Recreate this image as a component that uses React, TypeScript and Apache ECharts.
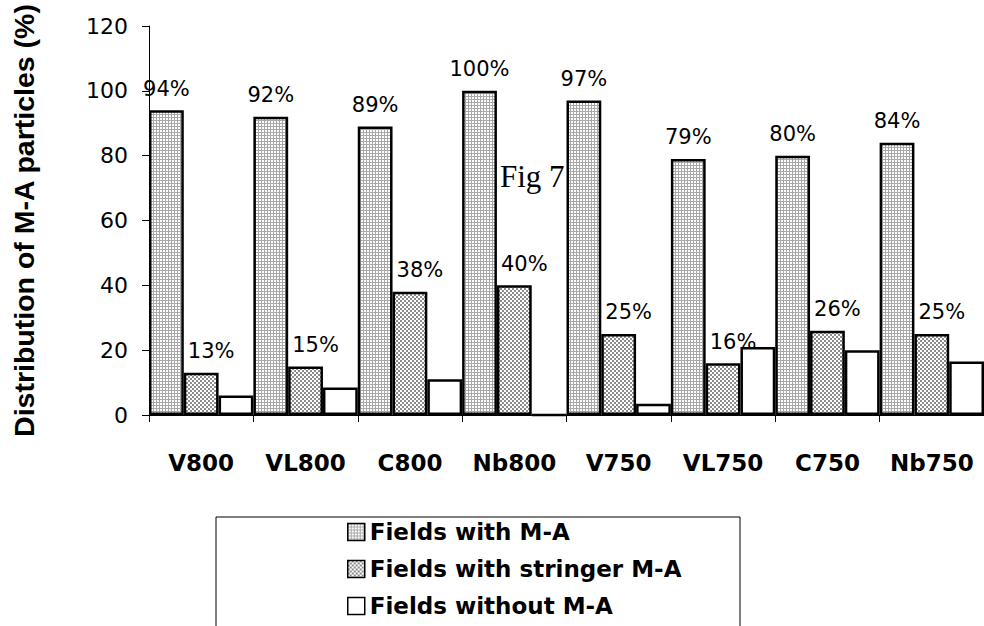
import React, { useEffect, useRef } from 'react';
import * as echarts from 'echarts';

const categories = ['V800', 'VL800', 'C800', 'Nb800', 'V750', 'VL750', 'C750', 'Nb750'];
const withMA = [94, 92, 89, 100, 97, 79, 80, 84];
const stringerMA = [13, 15, 38, 40, 25, 16, 26, 25];
const withoutMA = [6, 8.5, 11, 0, 3.5, 21, 20, 16.5];
const seriesNames = ['Fields with M-A', 'Fields with stringer M-A', 'Fields without M-A'];
const yTicks = { min: 0, max: 120, interval: 20 };

function makePattern(size: number, dark: string, cells: [number, number][]) {
  const c = document.createElement('canvas');
  c.width = size;
  c.height = size;
  const ctx = c.getContext('2d')!;
  ctx.fillStyle = '#ffffff';
  ctx.fillRect(0, 0, size, size);
  ctx.fillStyle = dark;
  cells.forEach(([x, y]) => ctx.fillRect(x, y, 1, 1));
  return { image: c.toDataURL(), repeat: 'repeat', imageWidth: size, imageHeight: size } as any;
}

export default function App() {
  const ref = useRef<HTMLDivElement>(null);
  useEffect(() => {
    const chart = echarts.init(ref.current!, null, { renderer: 'svg' });
    const gridPat = makePattern(3, '#a8a8a8', [[0, 0], [1, 0], [2, 0], [0, 1], [0, 2]]);
    const checkPat = makePattern(4, '#8c8c8c', [[0, 0], [1, 0], [0, 1], [1, 1], [2, 2], [3, 2], [2, 3], [3, 3]]);
    const labelStyle = {
      show: true,
      position: 'top',
      distance: 11,
      formatter: '{c}%',
      fontFamily: 'DejaVu Sans',
      fontSize: 21,
      color: '#000',
    };
    const option: any = {
      animation: false,
      backgroundColor: '#fff',
      grid: { left: 149, right: 0, top: 26, bottom: 211, containLabel: false },
      xAxis: {
        type: 'category',
        data: categories,
        axisLine: { lineStyle: { color: '#000', width: 1 } },
        axisTick: { show: true, length: 7, lineStyle: { color: '#000' } },
        axisLabel: {
          interval: 0,
          margin: 36,
          fontFamily: 'DejaVu Sans',
          fontWeight: 'bold',
          fontSize: 23,
          color: '#000',
        },
      },
      yAxis: {
        type: 'value',
        min: yTicks.min,
        max: yTicks.max,
        interval: yTicks.interval,
        name: 'Distribution of M-A particles (%)',
        nameLocation: 'middle',
        nameRotate: 90,
        nameGap: 111,
        nameTextStyle: {
          fontFamily: 'Liberation Sans',
          fontWeight: 'bold',
          fontSize: 28.5,
          color: '#000',
        },
        splitLine: { show: false },
        axisLine: { show: true, lineStyle: { color: '#000', width: 1 } },
        axisTick: { show: true, length: 7, lineStyle: { color: '#000' } },
        axisLabel: {
          margin: 21,
          fontFamily: 'DejaVu Sans',
          fontSize: 22,
          color: '#000',
        },
      },
      legend: {
        orient: 'vertical',
        left: 347,
        top: 520,
        height: 160,
        padding: 0,
        icon: 'rect',
        itemWidth: 17,
        itemHeight: 17,
        itemGap: 13,
        itemStyle: { borderColor: '#000', borderWidth: 1.5 },
        textStyle: {
          fontFamily: 'DejaVu Sans',
          fontWeight: 'bold',
          fontSize: 23,
          lineHeight: 24,
          color: '#000',
        },
        data: seriesNames,
      },
      graphic: [
        {
          type: 'rect',
          shape: { x: 216, y: 517, width: 524, height: 140 },
          style: { fill: 'none', stroke: '#000', lineWidth: 1 },
        },
        {
          type: 'text',
          left: 500,
          top: 161,
          style: { text: 'Fig 7', fontFamily: 'Liberation Serif', fontSize: 31, fill: '#000' },
        },
      ],
      series: [
        {
          name: seriesNames[0],
          type: 'bar',
          data: withMA,
          barGap: '0%',
          barCategoryGap: '0%',
          itemStyle: { color: gridPat, borderColor: '#000', borderWidth: 2.5 },
          label: labelStyle,
        },
        {
          name: seriesNames[1],
          type: 'bar',
          data: stringerMA,
          barGap: '0%',
          barCategoryGap: '0%',
          itemStyle: { color: checkPat, borderColor: '#000', borderWidth: 2.5 },
          label: { ...labelStyle, offset: [10, 0] },
        },
        {
          name: seriesNames[2],
          type: 'bar',
          data: withoutMA,
          barGap: '0%',
          barCategoryGap: '0%',
          itemStyle: { color: '#fff', borderColor: '#000', borderWidth: 2.5 },
        },
      ],
    };
    chart.setOption(option);
    return () => chart.dispose();
  }, []);
  return (
    <div
      ref={ref}
      style={{ position: 'fixed', left: 0, top: 0, width: 984, height: 626, background: '#fff' }}
    />
  );
}
